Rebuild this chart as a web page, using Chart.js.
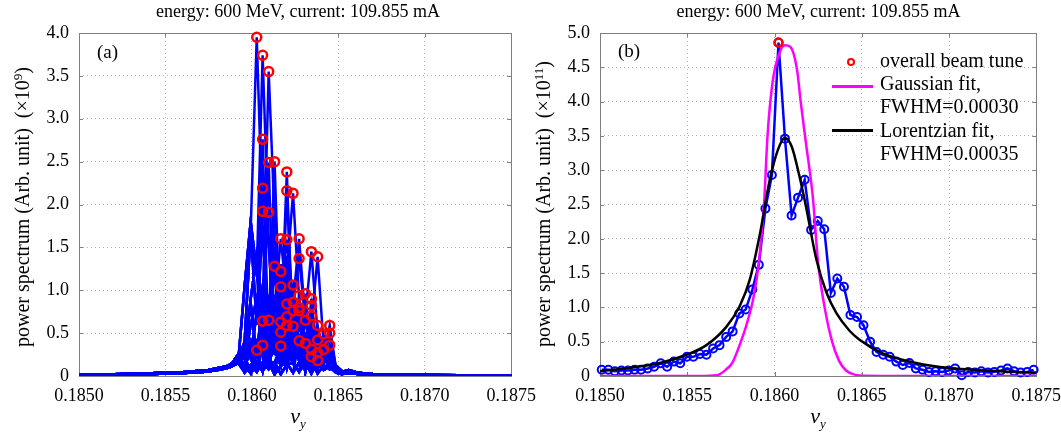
<!DOCTYPE html>
<html>
<head>
<meta charset="utf-8">
<title>tune spectrum</title>
<script src="https://cdn.jsdelivr.net/npm/chart.js@4.4.1/dist/chart.umd.min.js"></script>
<style>
  html, body { margin: 0; padding: 0; background: #fff; overflow: hidden; }
  #wrap { position: relative; width: 1061px; height: 433px; overflow: hidden;
          font-family: 'Liberation Serif', 'Times New Roman', serif; color: #000; }
  canvas { position: absolute; top: 0; }
  .ttl { position: absolute; top: 2px; font-size: 18px; line-height: 1; text-align: center; white-space: nowrap; }
  .ylab { position: absolute; font-size: 20px; line-height: 1; white-space: nowrap;
          transform: translate(-50%, -50%) rotate(-90deg); }
  .ylab sup { font-size: 13px; vertical-align: 7px; line-height: 0; }
  .xlab { position: absolute; top: 405px; font-size: 22px; line-height: 1; font-style: italic;
          transform: translateX(-50%); white-space: nowrap; }
  .xlab sub { font-size: 13px; vertical-align: -5px; line-height: 0; }
  .tag { position: absolute; font-size: 19px; line-height: 1; }
  .leg { position: absolute; left: 880px; font-size: 20px; line-height: 1; white-space: nowrap; }
  .legline { position: absolute; left: 832px; width: 41px; height: 2.5px; }
  .legmark { position: absolute; width: 4px; height: 4px; border: 2.5px solid #ff0000; border-radius: 50%; }
</style>
</head>
<body>
<div id="wrap">
  <canvas id="chart-a" width="545" height="433" style="left:0px"></canvas>
  <canvas id="chart-b" width="540" height="433" style="left:530px"></canvas>

  <div class="ttl" style="left:79px;width:438px">energy: 600 MeV, current: 109.855 mA</div>
  <div class="ttl" style="left:600px;width:437px">energy: 600 MeV, current: 109.855 mA</div>

  <div class="ylab" style="left:22px;top:207px">power spectrum (Arb. unit)&nbsp;&nbsp;(×10<sup>9</sup>)</div>
  <div class="ylab" style="left:543px;top:204px">power spectrum (Arb. unit)&nbsp;&nbsp;(×10<sup>11</sup>)</div>

  <div class="xlab" style="left:298px">ν<sub>y</sub></div>
  <div class="xlab" style="left:818px">ν<sub>y</sub></div>

  <div class="tag" style="left:97px;top:42px">(a)</div>
  <div class="tag" style="left:618px;top:41px">(b)</div>

  <div class="legmark" style="left:847px;top:58px"></div>
  <div class="leg" style="top:50px">overall beam tune</div>
  <div class="legline" style="top:85px;background:#ff00ff"></div>
  <div class="leg" style="top:73px">Gaussian fit,</div>
  <div class="leg" style="top:96px">FWHM=0.00030</div>
  <div class="legline" style="top:129px;background:#000000"></div>
  <div class="leg" style="top:120px">Lorentzian fit,</div>
  <div class="leg" style="top:143px">FWHM=0.00035</div>
</div>

<script>
// axis ticks
const xTickValues = [0.1850, 0.1855, 0.1860, 0.1865, 0.1870, 0.1875];
const xTickLabels = ['0.1850', '0.1855', '0.1860', '0.1865', '0.1870', '0.1875'];
const yTickValuesA = [0, 0.5, 1, 1.5, 2, 2.5, 3, 3.5, 4];
const yTickLabelsA = ['0', '0.5', '1.0', '1.5', '2.0', '2.5', '3.0', '3.5', '4.0'];
const yTickValuesB = [0, 0.5, 1, 1.5, 2, 2.5, 3, 3.5, 4, 4.5, 5];
const yTickLabelsB = ['0', '0.5', '1.0', '1.5', '2.0', '2.5', '3.0', '3.5', '4.0', '4.5', '5.0'];

// panel (a): spectra of the single bunches
const binNu = [0.185958, 0.185993, 0.186028, 0.186062, 0.186097, 0.186131, 0.186167, 0.186202, 0.186238,
               0.186273, 0.186309, 0.186344, 0.186380, 0.186415, 0.186450, 0.186486, 0.186521];
const leftTailNu = [0.1850, 0.1852, 0.1854, 0.1855, 0.1856, 0.1857, 0.18575, 0.1858, 0.18585, 0.18588, 0.18592];
const leftTails = [
    [0.02, 0.02, 0.03, 0.04, 0.045, 0.06, 0.07, 0.09, 0.11, 0.14, 0.20],
    [0.01, 0.015, 0.02, 0.03, 0.035, 0.045, 0.055, 0.07, 0.09, 0.11, 0.15],
    [0.015, 0.01, 0.025, 0.035, 0.04, 0.05, 0.065, 0.08, 0.10, 0.13, 0.25]
];
const rightTailNu = [0.18656, 0.1866, 0.18665, 0.1867, 0.1868, 0.1869, 0.1870, 0.1872, 0.1875];
const rightTails = [
    [0.05, 0.035, 0.025, 0.02, 0.015, 0.012, 0.01, 0.008, 0.006],
    [0.035, 0.025, 0.018, 0.014, 0.011, 0.009, 0.007, 0.005, 0.004],
    [0.07, 0.045, 0.03, 0.024, 0.018, 0.014, 0.012, 0.009, 0.007]
];

const tallProfiles = [
    [0.40, 1.70, 0.60, 1.75, 0.30, 1.50, 0.50, 1.20, 0.20, 0.90, 0.35, 0.60, 0.15, 0.45, 0.25, 0.12, 0.06],
    [1.05, 1.80, 1.20, 0.40, 1.60, 0.25, 1.30, 0.45, 1.00, 0.30, 0.70, 0.20, 0.55, 0.30, 0.18, 0.10, 0.05],
    [0.25, 0.90, 1.40, 0.80, 0.50, 1.85, 0.30, 1.40, 0.60, 0.85, 0.15, 0.50, 0.35, 0.20, 0.30, 0.08, 0.04]
];
const midProfiles = [
    [0.30, 0.85, 0.20, 0.95, 0.40, 0.80, 0.10, 0.90, 0.35, 0.55, 0.70, 0.15, 0.50, 0.25, 0.30, 0.10, 0.05],
    [0.15, 0.60, 0.90, 0.25, 0.85, 0.35, 0.95, 0.20, 0.75, 0.80, 0.30, 0.60, 0.10, 0.35, 0.15, 0.08, 0.04],
    [0.35, 0.20, 0.75, 0.80, 0.15, 0.90, 0.70, 0.30, 0.85, 0.20, 0.65, 0.55, 0.25, 0.40, 0.10, 0.12, 0.05]
];
const lowProfiles = [
    [0.20, 0.40, 0.10, 0.45, 0.25, 0.05, 0.46, 0.30, 0.15, 0.44, 0.20, 0.40, 0.08, 0.34, 0.22, 0.06, 0.03],
    [0.08, 0.35, 0.30, 0.06, 0.44, 0.32, 0.12, 0.47, 0.22, 0.42, 0.05, 0.38, 0.30, 0.15, 0.25, 0.10, 0.04],
    [0.22, 0.05, 0.40, 0.30, 0.12, 0.41, 0.25, 0.10, 0.46, 0.18, 0.45, 0.10, 0.38, 0.26, 0.08, 0.09, 0.03]
];
const tinyProfiles = [
    [0.12, 0.03, 0.14, 0.06, 0.16, 0.02, 0.12, 0.15, 0.04, 0.16, 0.08, 0.15, 0.03, 0.12, 0.10, 0.05, 0.03],
    [0.04, 0.13, 0.05, 0.15, 0.08, 0.16, 0.02, 0.13, 0.16, 0.05, 0.15, 0.03, 0.16, 0.07, 0.11, 0.04, 0.02]
];

// peak of every spectrum (red circles): bin index and height
const peakBin = [2, 3, 4, 3, 4, 5, 7, 3, 7, 8, 3, 4,
                 6, 7, 9, 11, 12, 9, 5, 6, 6, 8,
                 9, 10, 11, 7, 8, 9, 11, 8, 9, 7, 11, 3, 4, 6, 10, 12, 14, 8, 7, 6, 13, 14,
                 9, 10, 12, 3, 2, 6, 11, 13, 14, 12, 11, 12];
const peakPower = [3.95, 3.74, 3.55, 2.76, 2.49, 2.50, 2.38, 2.19, 2.16, 2.13, 1.92, 1.91,
                   1.60, 1.59, 1.60, 1.45, 1.39, 1.37, 1.28, 1.22, 1.04, 1.06,
                   0.94, 0.96, 0.90, 0.84, 0.86, 0.80, 0.82, 0.76, 0.76, 0.69, 0.70, 0.64, 0.65, 0.63, 0.65,
                   0.59, 0.59, 0.58, 0.59, 0.51, 0.49, 0.50,
                   0.41, 0.38, 0.42, 0.36, 0.30, 0.35, 0.31, 0.31, 0.36, 0.27, 0.225, 0.18];

// panel (b): overall beam spectrum and fits
const tuneNu = [0.185010, 0.185048, 0.185085, 0.185123, 0.185160, 0.185198, 0.185235, 0.185273, 0.185310,
                0.185348, 0.185385, 0.185423, 0.185460, 0.185498, 0.185535, 0.185573, 0.185610, 0.185648,
                0.185685, 0.185723, 0.185760, 0.185798, 0.185835, 0.185873, 0.185910, 0.185948, 0.185985,
                0.186023, 0.186060, 0.186098, 0.186135, 0.186173, 0.186210, 0.186248, 0.186285, 0.186323,
                0.186360, 0.186398, 0.186435, 0.186473, 0.186510, 0.186548, 0.186585, 0.186623, 0.186660,
                0.186698, 0.186735, 0.186773, 0.186810, 0.186848, 0.186885, 0.186923, 0.186960, 0.186998,
                0.187035, 0.187073, 0.187110, 0.187148, 0.187185, 0.187223, 0.187260, 0.187298, 0.187335,
                0.187373, 0.187410, 0.187448, 0.187485];
const tunePower = [0.09, 0.09, 0.07, 0.08, 0.08, 0.09, 0.09, 0.11, 0.135, 0.185, 0.135, 0.21, 0.185, 0.28,
                   0.28, 0.32, 0.31, 0.40, 0.45, 0.57, 0.65, 0.91, 0.97, 1.26, 1.62, 2.44, 2.93,
                   4.86, 3.46, 2.34, 2.60, 2.86, 2.13, 2.26, 2.14, 1.21, 1.42, 1.30, 0.89,
                   0.86, 0.74, 0.50, 0.35, 0.31, 0.28, 0.21, 0.16, 0.19, 0.11, 0.09, 0.06, 0.07, 0.06,
                   0.08, 0.11, 0.01, 0.06, 0.05, 0.07, 0.05, 0.06, 0.08, 0.11, 0.07, 0.05, 0.06, 0.09];
const beamTuneNu = [0.186023];
const beamTunePower = [4.86];

const gaussNu = [0.18500, 0.18557, 0.18567, 0.18572, 0.18576, 0.18580, 0.18584, 0.18588, 0.18591, 0.18594,
                 0.18596, 0.18599, 0.18603, 0.18606, 0.18609, 0.18613, 0.18615, 0.18618, 0.18622, 0.18625,
                 0.18629, 0.18633, 0.18637, 0.18641, 0.18646, 0.18652, 0.18672, 0.18750];
const gaussPower = [0, 0, 0.01, 0.09, 0.2, 0.45, 0.75, 1.15, 1.65, 2.5,
                    3.5, 4.3, 4.72, 4.82, 4.80, 4.45, 4.0, 3.4, 2.6, 1.65,
                    0.96, 0.5, 0.22, 0.08, 0.02, 0.003, 0, 0];

const lorentzNu = [0.18500, 0.185172, 0.185343, 0.185496, 0.185610, 0.185725, 0.185801, 0.185858, 0.185915,
                   0.185972, 0.186020, 0.186058, 0.186098, 0.186144, 0.186182, 0.186240, 0.186297, 0.186354,
                   0.186430, 0.186487, 0.186620, 0.186812, 0.187002, 0.187288, 0.187500];
const lorentzPower = [0.07, 0.12, 0.19, 0.31, 0.45, 0.72, 1.02, 1.40, 2.05,
                      2.85, 3.30, 3.47, 3.35, 2.90, 2.45, 1.70, 1.22, 0.92,
                      0.66, 0.53, 0.33, 0.19, 0.115, 0.07, 0.05];

const tickFont = { family: "'Liberation Serif', 'Times New Roman', serif", size: 18 };

// box around the plot with short inner ticks
const framePlugin = {
    id: 'frame',
    beforeDatasetsDraw(chart) {
        const ctx = chart.ctx;
        const a = chart.chartArea;
        const sx = chart.scales.x;
        const sy = chart.scales.y;
        ctx.save();
        ctx.strokeStyle = '#7f7f7f';
        ctx.lineWidth = 1;
        ctx.strokeRect(Math.round(a.left) + 0.5, Math.round(a.top) + 0.5,
                       Math.round(a.right - a.left), Math.round(a.bottom - a.top));
        ctx.beginPath();
        sx.ticks.forEach(t => {
            const px = Math.round(sx.getPixelForValue(t.value)) + 0.5;
            ctx.moveTo(px, a.bottom); ctx.lineTo(px, a.bottom - 4);
            ctx.moveTo(px, a.top); ctx.lineTo(px, a.top + 4);
        });
        sy.ticks.forEach(t => {
            const py = Math.round(sy.getPixelForValue(t.value)) + 0.5;
            ctx.moveTo(a.left, py); ctx.lineTo(a.left + 4, py);
            ctx.moveTo(a.right, py); ctx.lineTo(a.right - 4, py);
        });
        ctx.stroke();
        ctx.restore();
    }
};

function toPoints(xs, ys) {
    return xs.map((x, i) => ({ x: x, y: ys[i] }));
}

function makeOptions(yMax, yTickValues, yTickLabels, yWidth, padRight) {
    const grid = { color: '#b4b4b4', lineWidth: 1, drawTicks: false };
    return {
        responsive: false,
        animation: false,
        layout: { padding: { top: 33, right: padRight, left: 0, bottom: 0 } },
        plugins: { legend: { display: false }, tooltip: { enabled: false }, title: { display: false } },
        scales: {
            x: {
                type: 'linear', min: 0.1850, max: 0.1875,
                afterBuildTicks: s => { s.ticks = xTickValues.map(v => ({ value: v })); },
                afterFit: s => { s.height = 57; },
                ticks: { autoSkip: false, maxRotation: 0, minRotation: 0, padding: 9, color: '#000', font: tickFont,
                         callback: (v, i) => xTickLabels[i] },
                grid: grid,
                border: { display: false, dash: [1, 3] }
            },
            y: {
                type: 'linear', min: 0, max: yMax,
                afterBuildTicks: s => { s.ticks = yTickValues.map(v => ({ value: v })); },
                afterFit: s => { s.width = yWidth; },
                ticks: { padding: 10, color: '#000', font: tickFont, callback: (v, i) => yTickLabels[i] },
                grid: grid,
                border: { display: false, dash: [1, 3] }
            }
        }
    };
}

// panel (a)
function createChartA() {
    const datasets = [{
        data: toPoints(peakBin.map(b => binNu[b]), peakPower),
        showLine: false,
        pointStyle: 'circle',
        pointRadius: 4.5,
        pointBorderWidth: 2.5,
        pointBorderColor: '#ff0000',
        pointBackgroundColor: 'rgba(0,0,0,0)',
        clip: 8,
        order: 0
    }];

    peakPower.forEach((p, i) => {
        let group;
        if (p >= 1.9) group = tallProfiles;
        else if (p >= 1.0) group = midProfiles;
        else if (p >= 0.48) group = lowProfiles;
        else group = tinyProfiles;
        const profile = group[i % group.length];
        const lt = leftTails[i % 3];
        const rt = rightTails[(i + 1) % 3];
        const centre = profile.map((v, j) => (j === peakBin[i] ? p : v));
        datasets.push({
            data: toPoints(leftTailNu.concat(binNu, rightTailNu), lt.concat(centre, rt)),
            showLine: true,
            borderColor: '#0000ff',
            borderWidth: 2.5,
            pointRadius: 0,
            order: 1
        });
    });

    new Chart(document.getElementById('chart-a'), {
        type: 'scatter',
        data: { datasets: datasets },
        options: makeOptions(4, yTickValuesA, yTickLabelsA, 79, 28),
        plugins: [framePlugin]
    });
}

// panel (b)
function createChartB() {
    const datasets = [
        {
            label: 'overall beam tune',
            data: toPoints(beamTuneNu, beamTunePower),
            showLine: false,
            pointRadius: 4,
            pointBorderWidth: 2.5,
            pointBorderColor: '#ff0000',
            pointBackgroundColor: 'rgba(0,0,0,0)',
            clip: 8,
            order: 0
        },
        {
            label: 'Lorentzian fit, FWHM=0.00035',
            data: toPoints(lorentzNu, lorentzPower),
            showLine: true,
            borderColor: '#000000',
            borderWidth: 2.5,
            pointRadius: 0,
            cubicInterpolationMode: 'monotone',
            order: 1
        },
        {
            label: 'Gaussian fit, FWHM=0.00030',
            data: toPoints(gaussNu, gaussPower),
            showLine: true,
            borderColor: '#ff00ff',
            borderWidth: 2.5,
            pointRadius: 0,
            cubicInterpolationMode: 'monotone',
            order: 2
        },
        {
            label: 'spectrum',
            data: toPoints(tuneNu, tunePower),
            showLine: true,
            borderColor: '#0000ff',
            borderWidth: 2.5,
            pointRadius: 4,
            pointBorderWidth: 2,
            pointBorderColor: '#0000ff',
            pointBackgroundColor: 'rgba(0,0,0,0)',
            clip: 8,
            order: 3
        }
    ];

    new Chart(document.getElementById('chart-b'), {
        type: 'scatter',
        data: { datasets: datasets },
        options: makeOptions(5, yTickValuesB, yTickLabelsB, 70, 33),
        plugins: [framePlugin]
    });
}

document.addEventListener('DOMContentLoaded', function() {
    createChartA();
    createChartB();
});
</script>
</body>
</html>
